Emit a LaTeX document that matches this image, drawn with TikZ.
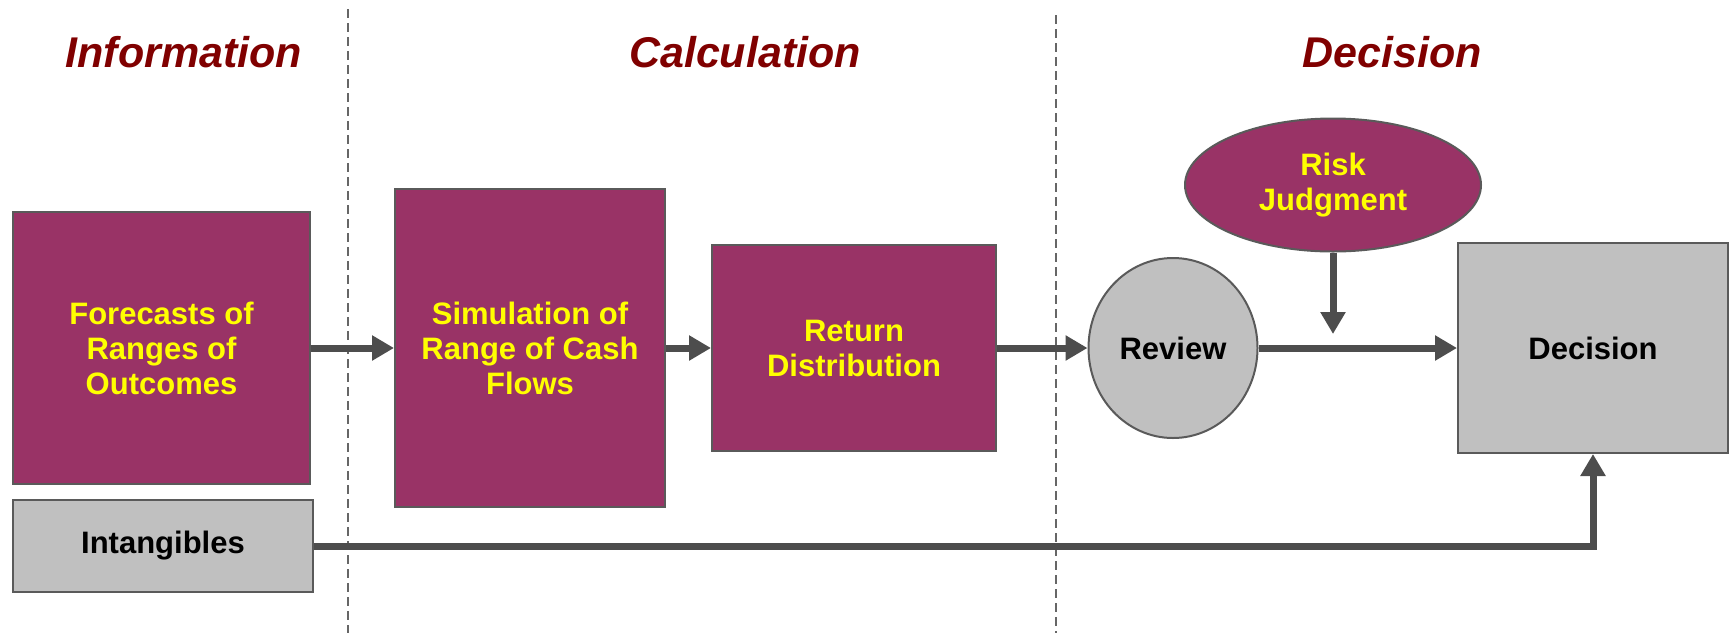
\documentclass[tikz,border=0pt]{standalone}
\usepackage{fontspec}
\setmainfont{Liberation Sans}
\usetikzlibrary{arrows.meta,shapes.geometric}
\definecolor{plum}{HTML}{993366}
\definecolor{boxgray}{HTML}{C0C0C0}
\definecolor{edgegray}{HTML}{5A5A5A}
\definecolor{arrowgray}{HTML}{4D4D4D}
\definecolor{headred}{HTML}{800000}
\definecolor{textyellow}{HTML}{FFFF00}
\definecolor{dashgray}{HTML}{666666}
\begin{document}
\begin{tikzpicture}[x=1pt,y=-1pt,
  plumbox/.style={draw=edgegray,line width=2pt,fill=plum,text=textyellow,
    inner sep=0pt,align=center,font=\fontsize{31}{35}\selectfont\bfseries},
  graybox/.style={draw=edgegray,line width=2pt,fill=boxgray,text=black,
    inner sep=0pt,align=center,font=\fontsize{31}{35}\selectfont\bfseries},
  header/.style={text=headred,font=\fontsize{43}{48}\selectfont\bfseries\itshape},
  divider/.style={draw=dashgray,line width=1.5pt,dash pattern=on 9pt off 5pt},
  flow/.style={draw=arrowgray,line width=7pt,
    -{Triangle[length=22pt,width=24pt]}}
]
\useasboundingbox (0,0) rectangle (1729,633);

\coordinate (d1top) at (348,9);
\coordinate (d1bot) at (348,633);
\coordinate (d2top) at (1056,15);
\coordinate (d2bot) at (1056,633);
\draw[divider] (d1top) -- (d1bot);
\draw[divider] (d2top) -- (d2bot);

\node[header] (hinfo) at (184,52) {Information};
\node[header] (hcalc) at (745,52) {Calculation};
\node[header] (hdec) at (1392,52) {Decision};

\node[plumbox,minimum width=297pt,minimum height=272pt] (fore) at (161.5,348)
  {Forecasts of\\Ranges of\\Outcomes};
\node[graybox,minimum width=300pt,minimum height=92pt] (intang) at (163,546)
  {Intangibles};
\node[plumbox,minimum width=270pt,minimum height=318pt] (sim) at (530,348)
  {Simulation of\\Range of Cash\\Flows};
\node[plumbox,minimum width=284pt,minimum height=206pt] (ret) at (854,348)
  {Return\\Distribution};
\node[graybox,ellipse,minimum width=169pt,minimum height=180pt] (rev) at (1173,348)
  {Review};
\node[plumbox,ellipse,minimum width=296pt,minimum height=133pt] (risk) at (1333,185)
  {Risk\\Judgment};
\node[graybox,minimum width=270pt,minimum height=210pt] (dec) at (1593,348)
  {Decision};

\coordinate (riskend) at (1333,334);
\coordinate (bend) at (1593,546);

\draw[flow] (fore) -- (sim);
\draw[flow] (sim) -- (ret);
\draw[flow] (ret) -- (rev);
\draw[flow] (rev) -- (dec);
\draw[flow] (risk.south) -- (riskend);
\draw[flow] (intang.east) -- (bend) -- (dec.south);
\end{tikzpicture}
\end{document}
